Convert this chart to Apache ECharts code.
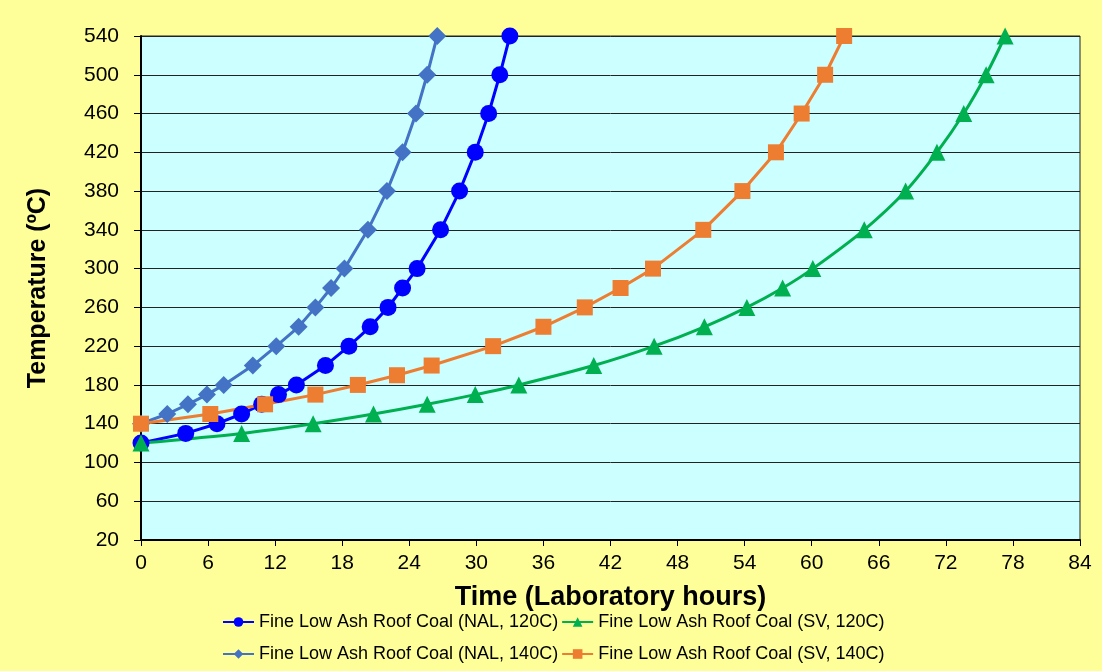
<!DOCTYPE html>
<html>
<head>
<meta charset="utf-8">
<script src="https://cdn.jsdelivr.net/npm/echarts@6/dist/echarts.min.js"></script>
<style>
html,body{margin:0;padding:0;background:#FFFF99;}
#chart{width:1102px;height:671px;}
</style>
</head>
<body>
<div id="chart"></div>
<script>
// Data
const nal120Hours = [0, 4.0, 6.8, 9.0, 10.8, 12.3, 13.9, 16.5, 18.6, 20.5, 22.1, 23.4, 24.7, 26.8, 28.5, 29.9, 31.1, 32.1, 33.0];
const nal120Temp  = [120, 130, 140, 150, 160, 170, 180, 200, 220, 240, 260, 280, 300, 340, 380, 420, 460, 500, 540];

const nal140Hours = [0, 2.35, 4.2, 5.9, 7.4, 10.0, 12.1, 14.1, 15.6, 17.0, 18.2, 20.3, 22.0, 23.4, 24.6, 25.6, 26.5];
const nal140Temp  = [140, 150, 160, 170, 180, 200, 220, 240, 260, 280, 300, 340, 380, 420, 460, 500, 540];

const sv120Hours = [0, 9.0, 15.4, 20.8, 25.6, 29.9, 33.8, 40.5, 45.9, 50.4, 54.2, 57.4, 60.1, 64.7, 68.4, 71.2, 73.6, 75.6, 77.3];
const sv120Temp  = [120, 130, 140, 150, 160, 170, 180, 200, 220, 240, 260, 280, 300, 340, 380, 420, 460, 500, 540];

const sv140Hours = [0, 6.2, 11.1, 15.6, 19.4, 22.9, 26.0, 31.5, 36.0, 39.7, 42.9, 45.8, 50.3, 53.8, 56.8, 59.1, 61.2, 62.9];
const sv140Temp  = [140, 150, 160, 170, 180, 190, 200, 220, 240, 260, 280, 300, 340, 380, 420, 460, 500, 540];

const seriesNames = [
  'Fine Low Ash Roof Coal (NAL, 120C)',
  'Fine Low Ash Roof Coal (NAL, 140C)',
  'Fine Low Ash Roof Coal (SV, 120C)',
  'Fine Low Ash Roof Coal (SV, 140C)'
];
const xAxisTitle = 'Time (Laboratory hours)';
const yAxisTitle = 'Temperature (ºC)';

function pairs(xs, ys) { return xs.map((x, i) => [x, ys[i]]); }

const FONT = '"Liberation Sans", Arial, sans-serif';

const chart = echarts.init(document.getElementById('chart'), null, {renderer: 'canvas'});

const legendText = {fontFamily: FONT, fontSize: 18, color: '#000'};

chart.setOption({
  backgroundColor: '#FFFF99',
  animation: false,
  textStyle: {fontFamily: FONT},
  grid: {
    left: 141, right: 22, top: 36, bottom: 131,
    show: true, backgroundColor: '#CCFFFF',
    borderColor: '#222', borderWidth: 1
  },
  legend: [
    {
      data: [seriesNames[0], seriesNames[2]],
      left: 222, top: 613, orient: 'horizontal',
      itemWidth: 31, itemHeight: 12, itemGap: 3,
      textStyle: legendText, padding: 0
    },
    {
      data: [seriesNames[1], seriesNames[3]],
      left: 222, top: 645, orient: 'horizontal',
      itemWidth: 31, itemHeight: 12, itemGap: 3,
      textStyle: legendText, padding: 0
    }
  ],
  xAxis: {
    type: 'value', min: 0, max: 84, interval: 6,
    name: xAxisTitle, nameLocation: 'middle', nameGap: 44,
    nameTextStyle: {fontFamily: FONT, fontSize: 27, fontWeight: 'bold', color: '#000'},
    axisLine: {show: true, onZero: false, lineStyle: {color: '#000', width: 2}},
    axisTick: {show: true, inside: false, length: 6, lineStyle: {color: '#000', width: 1}},
    axisLabel: {fontFamily: FONT, fontSize: 21, color: '#000', margin: 13},
    splitLine: {show: false}
  },
  yAxis: {
    type: 'value', min: 20, max: 540, interval: 40,
    name: yAxisTitle, nameLocation: 'middle', nameGap: 90,
    nameTextStyle: {fontFamily: FONT, fontSize: 25, fontWeight: 'bold', color: '#000'},
    axisLine: {show: true, onZero: false, lineStyle: {color: '#000', width: 2}},
    axisTick: {show: true, inside: false, length: 7, lineStyle: {color: '#000', width: 1}},
    axisLabel: {fontFamily: FONT, fontSize: 21, color: '#000', margin: 22},
    splitLine: {show: true, lineStyle: {color: '#222', width: 1}}
  },
  series: [
    {
      name: seriesNames[0], type: 'line', data: pairs(nal120Hours, nal120Temp),
      symbol: 'circle', symbolSize: 17,
      lineStyle: {color: '#0000FF', width: 3},
      itemStyle: {color: '#0000FF'}
    },
    {
      name: seriesNames[1], type: 'line', data: pairs(nal140Hours, nal140Temp),
      symbol: 'diamond', symbolSize: 18,
      lineStyle: {color: '#4472C4', width: 3},
      itemStyle: {color: '#4472C4'}
    },
    {
      name: seriesNames[2], type: 'line', data: pairs(sv120Hours, sv120Temp),
      symbol: 'triangle', symbolSize: 17, smooth: 0.3,
      lineStyle: {color: '#00B050', width: 3},
      itemStyle: {color: '#00B050'}
    },
    {
      name: seriesNames[3], type: 'line', data: pairs(sv140Hours, sv140Temp),
      symbol: 'rect', symbolSize: 16,
      lineStyle: {color: '#ED7D31', width: 3},
      itemStyle: {color: '#ED7D31'}
    }
  ]
});
</script>
</body>
</html>
